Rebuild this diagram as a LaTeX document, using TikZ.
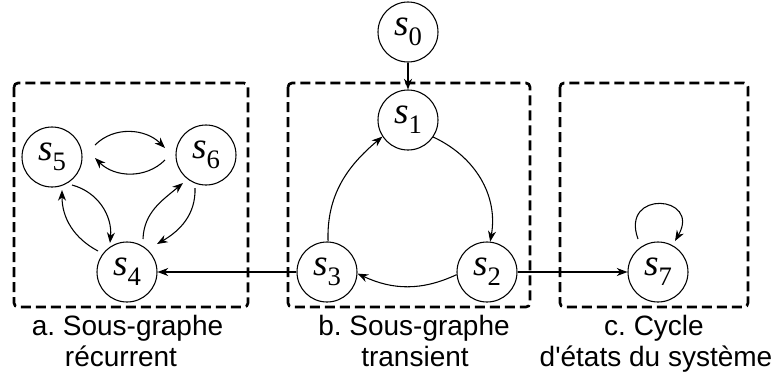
\documentclass[tikz,border=0pt]{standalone}
\usepackage{fontspec}
\setmainfont{Liberation Sans}[Ligatures=TeXOff]
\newfontfamily\tmsfont{Liberation Serif}
\usetikzlibrary{arrows.meta}
\newcommand\stlab[1]{{\tmsfont\fontsize{28}{28}\selectfont\itshape s}\raisebox{-7.5pt}{\tmsfont\fontsize{20}{20}\selectfont #1}}
\frenchspacing
\begin{document}
\begin{tikzpicture}[x=0.75pt,y=0.75pt,
 state/.style={circle,draw,line width=0.8pt,minimum size=45pt,inner sep=0pt,fill=white},
 arr/.style={line width=0.8pt,-{Stealth[length=8pt,width=6pt,inset=2.5pt]}},
 grp/.style={draw,line width=2pt,dash pattern=on 7.5pt off 3.75pt,rounded corners=3pt},
 lab/.style={anchor=base,font=\fontsize{21}{24}\selectfont,inner sep=0pt}]
\useasboundingbox (0,0) rectangle (776,-380);
% boxes
\draw[grp] (14,-83) rectangle (248,-307);
\draw[grp] (288,-83) rectangle (530,-307);
\draw[grp] (560,-83) rectangle (748,-307);
% states
\node[state] (s0) at (408,-32) {\stlab{0}};
\node[state] (s1) at (408,-120) {\stlab{1}};
\node[state] (s2) at (487,-272) {\stlab{2}};
\node[state] (s3) at (327,-272) {\stlab{3}};
\node[state] (s4) at (127,-272) {\stlab{4}};
\node[state] (s5) at (52,-157) {\stlab{5}};
\node[state] (s6) at (206,-155) {\stlab{6}};
\node[state] (s7) at (658,-272) {\stlab{7}};
% transient part
\draw[arr] (s0) -- (s1);
\draw[arr] (s1.-34) to[out=-25,in=80] (s2.84);
\draw[arr] (s2.185) to[out=205,in=-25] (s3.-3);
\draw[arr] (s3.88) to[out=92,in=-140] (s1.213);
\draw[arr] (s3) -- (s4);
\draw[arr] (s2) -- (s7);
% recurrent part
\draw[arr] ([shift={(43,12)}]s5.center) to[out=45,in=135] ([shift={(-41,7)}]s6.center);
\draw[arr] ([shift={(-41,-5)}]s6.center) to[out=-135,in=-45] ([shift={(43,-1)}]s5.center);
\draw[arr] ([shift={(20,-28)}]s5.center) to[out=-15,in=85] ([shift={(-17,29)}]s4.center);
\draw[arr] ([shift={(-29,21)}]s4.center) to[out=152,in=-90] ([shift={(10,-33)}]s5.center);
\draw[arr] ([shift={(16,33)}]s4.center) to[out=88,in=-140] ([shift={(-23,-28)}]s6.center);
\draw[arr] ([shift={(-11,-33)}]s6.center) to[out=-88,in=30] ([shift={(30,28)}]s4.center);
% loop
\draw[arr] ([shift={(-20,33)}]s7.center) .. controls +(110:53) and +(60:53) .. ([shift={(17,31)}]s7.center);
% labels
\node[lab] (la1) at (127.5,-335) {a. Sous-graphe};
\node[lab] (la2) at (121,-366) {récurrent};
\node[lab] (lb1) at (414,-335) {b. Sous-graphe};
\node[lab] (lb2) at (415,-366) {transient};
\node[lab] (lc1) at (654,-335) {c. Cycle};
\node[lab] (lc2) at (656,-366) {d'états du système};
\end{tikzpicture}
\end{document}
